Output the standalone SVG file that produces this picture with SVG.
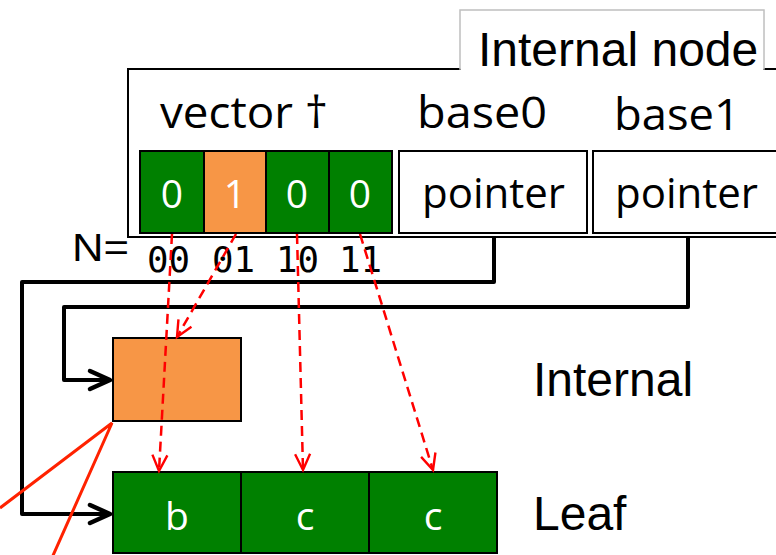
<svg xmlns="http://www.w3.org/2000/svg" width="776" height="555" viewBox="0 0 776 555">
  <style>
    .box { fill: #ffffff; stroke: #000000; stroke-width: 2; }
    .green { fill: #008000; stroke: #000000; stroke-width: 2; }
    .orange { fill: #F79646; stroke: #000000; stroke-width: 2; }
    .lbl { font-family: "Liberation Sans", Arial, sans-serif; fill: #000000; }
    .cal { font-family: "Open Sans", "Noto Sans", sans-serif; fill: #000000; }
    .cell { font-family: "Open Sans", "Noto Sans", sans-serif; fill: #ffffff; text-anchor: middle; font-size: 39px; }
    .mono { font-family: "DejaVu Sans Mono", "Liberation Mono", monospace; fill: #000000; font-size: 36px; }
    .wire { fill: none; stroke: #000000; stroke-width: 4; stroke-linejoin: round; }
    .dash { fill: none; stroke: #FF0000; stroke-width: 2.5; stroke-dasharray: 10 6; }
    .callout { fill: none; stroke: #FF2200; stroke-width: 3; }
  </style>
  <defs>
    <marker id="blackArrow" markerUnits="userSpaceOnUse" markerWidth="30" markerHeight="30" viewBox="-25 -15 30 30" refX="0" refY="0" orient="auto">
      <path d="M -20 -9 L 0 0 L -20 9" fill="none" stroke="#000000" stroke-width="4.5" stroke-linecap="round" stroke-linejoin="round"/>
    </marker>
    <marker id="redArrow" markerUnits="userSpaceOnUse" markerWidth="26" markerHeight="26" viewBox="-20 -13 26 26" refX="0" refY="0" orient="auto">
      <path d="M -16 -7.5 L 0 0 L -16 7.5" fill="none" stroke="#FF0000" stroke-width="2.4"/>
    </marker>
  </defs>

  <rect width="776" height="555" fill="#ffffff"/>

  <!-- Internal node container -->
  <g id="internal-node">
    <rect x="128" y="69" width="660" height="168" class="box"/>
    <rect x="460" y="10" width="304" height="59" fill="#ffffff" stroke="#bfbfbf" stroke-width="1.5"/>
    <rect x="461" y="60" width="302" height="12" fill="#ffffff"/>
    <text x="478" y="66" class="lbl" font-size="48">Internal node</text>
    <text x="160" y="128" class="cal" font-size="43" textLength="168" lengthAdjust="spacingAndGlyphs">vector †</text>
    <text x="417" y="128" class="cal" font-size="43" textLength="130" lengthAdjust="spacingAndGlyphs">base0</text>
    <text x="614" y="130" class="cal" font-size="43" textLength="126" lengthAdjust="spacingAndGlyphs">base1</text>
  </g>

  <!-- Bit vector -->
  <g id="bit-vector">
    <rect x="140" y="151" width="64" height="82" class="green"/>
    <rect x="204" y="151" width="62" height="82" class="orange"/>
    <rect x="266" y="151" width="63" height="82" class="green"/>
    <rect x="329" y="151" width="63" height="82" class="green"/>
    <text x="172" y="208" class="cell">0</text>
    <text x="235" y="208" class="cell">1</text>
    <text x="297" y="208" class="cell">0</text>
    <text x="360" y="208" class="cell">0</text>
  </g>

  <!-- Base pointers -->
  <g id="base0-pointer">
    <rect x="399" y="151" width="188" height="82" class="box"/>
    <text x="422" y="208" class="cal" font-size="42" textLength="143" lengthAdjust="spacingAndGlyphs">pointer</text>
  </g>
  <g id="base1-pointer">
    <rect x="593" y="151" width="200" height="82" class="box"/>
    <text x="615" y="208" class="cal" font-size="42" textLength="143" lengthAdjust="spacingAndGlyphs">pointer</text>
  </g>

  <!-- Index labels -->
  <g id="index-labels">
    <text x="72" y="261" class="lbl" font-size="39" textLength="57" lengthAdjust="spacingAndGlyphs">N=</text>
    <text x="147" y="272" class="mono" textLength="43" lengthAdjust="spacingAndGlyphs">00</text>
    <text x="212" y="272" class="mono" textLength="43" lengthAdjust="spacingAndGlyphs">01</text>
    <text x="276" y="272" class="mono" textLength="43" lengthAdjust="spacingAndGlyphs">10</text>
    <text x="339" y="272" class="mono" textLength="43" lengthAdjust="spacingAndGlyphs">11</text>
  </g>

  <!-- Child internal node -->
  <g id="child-internal">
    <rect x="113" y="338" width="128" height="83" class="orange"/>
    <text x="533" y="396" class="lbl" font-size="48">Internal</text>
  </g>

  <!-- Leaf node -->
  <g id="leaf">
    <rect x="113" y="472" width="128" height="81" class="green"/>
    <rect x="241" y="472" width="128" height="81" class="green"/>
    <rect x="369" y="472" width="128" height="81" class="green"/>
    <text x="177" y="530" class="cell" font-size="40">b</text>
    <text x="305" y="530" class="cell" font-size="40">c</text>
    <text x="433" y="530" class="cell" font-size="40">c</text>
    <text x="533" y="530" class="lbl" font-size="48">Leaf</text>
  </g>

  <!-- Connectors -->
  <g id="connectors">
    <path class="wire" d="M 494 237 L 494 282 L 22 282 L 22 514 L 110 514" marker-end="url(#blackArrow)"/>
    <path class="wire" d="M 688 237 L 688 307 L 64 307 L 64 380 L 110 380" marker-end="url(#blackArrow)"/>
    <path class="dash" d="M 172 234 L 159 471" marker-end="url(#redArrow)"/>
    <path class="dash" d="M 236 234 L 177 337" marker-end="url(#redArrow)"/>
    <path class="dash" d="M 297 234 L 303 470" marker-end="url(#redArrow)"/>
    <path class="dash" d="M 360 234 L 433 470" marker-end="url(#redArrow)"/>
    <path class="callout" d="M 0 508 L 112 423 L 51 560"/>
  </g>
</svg>
